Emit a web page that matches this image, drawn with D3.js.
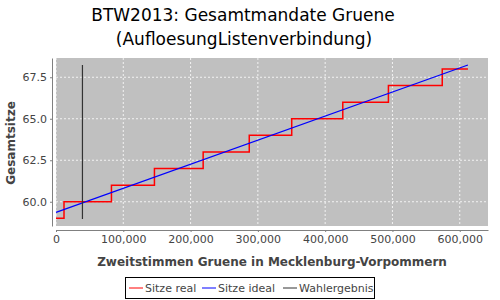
<!DOCTYPE html>
<html>
<head>
<meta charset="utf-8">
<script src="https://cdn.jsdelivr.net/npm/d3@7"></script>
<style>
  body { margin: 0; background: #fff; }
  text { font-family: "DejaVu Sans", sans-serif; }
</style>
</head>
<body>
<div id="chart"></div>
<script>
// step points of the real seat count (votes, seats)
var realVotes = [0, 11900, 82400, 146300, 218700, 287200, 350300, 426200, 494000, 574000, 612200];
var realSeats = [59, 60, 61, 62, 63, 64, 65, 66, 67, 68, 68];

// ideal (proportional) seat count, straight line
var idealVotes = [0, 612200];
var idealSeats = [59.36, 68.24];

// actual election result
var resultVotes = 39300;
var resultRange = [58.96, 68.24];

var xTicks = [0, 100000, 200000, 300000, 400000, 500000, 600000];
var yTicks = [60.0, 62.5, 65.0, 67.5];

var W = 500, H = 300;
var margin = { top: 58, right: 12, bottom: 74, left: 56 };
var width = W - margin.left - margin.right,
  height = H - margin.top - margin.bottom;

var svg = d3.select("#chart").append("svg")
  .attr("width", W)
  .attr("height", H);

// title
var title = svg.append("text")
  .attr("text-anchor", "middle")
  .style("font-size", "17px")
  .style("fill", "#000");
title.append("tspan").attr("x", 243).attr("y", 21).text("BTW2013: Gesamtmandate Gruene");
title.append("tspan").attr("x", 244).attr("y", 45).text("(AufloesungListenverbindung)");

var x = d3.scaleLinear().domain([0, 642000]).range([0, width]);
var y = d3.scaleLinear().domain([58.54, 68.66]).range([height, 0]);

var g = svg.append("g")
  .attr("transform", "translate(" + margin.left + "," + margin.top + ")");

g.append("rect")
  .attr("width", width)
  .attr("height", height)
  .style("fill", "#c0c0c0");

// grid
g.selectAll(".vgrid")
  .data(xTicks)
  .enter()
  .append("line")
  .attr("x1", function(d) { return x(d); })
  .attr("x2", function(d) { return x(d); })
  .attr("y1", 0)
  .attr("y2", height)
  .style("stroke", "#fff")
  .style("stroke-dasharray", "2,2")
  .style("stroke-width", 0.8);

g.selectAll(".hgrid")
  .data(yTicks)
  .enter()
  .append("line")
  .attr("x1", 0)
  .attr("x2", width)
  .attr("y1", function(d) { return y(d); })
  .attr("y2", function(d) { return y(d); })
  .style("stroke", "#fff")
  .style("stroke-dasharray", "2,2")
  .style("stroke-width", 0.8);

// axes
var xAxis = d3.axisBottom(x)
  .tickValues(xTicks)
  .tickSize(2)
  .tickSizeOuter(0)
  .tickFormat(d3.format(","));
var yAxis = d3.axisLeft(y)
  .tickValues(yTicks)
  .tickSize(2)
  .tickSizeOuter(0)
  .tickFormat(d3.format(".1f"));

var gx = g.append("g")
  .attr("transform", "translate(0," + (height + 4) + ")")
  .call(xAxis);
var gy = g.append("g")
  .attr("transform", "translate(-4,0)")
  .call(yAxis);

[gx, gy].forEach(function(a) {
  a.select(".domain").style("stroke", "#808080");
  a.selectAll(".tick line").style("stroke", "#808080");
  a.selectAll(".tick text")
    .style("font-size", "11px")
    .style("fill", "#444")
    .style("font-family", "DejaVu Sans, sans-serif");
});

// lines
var real = realVotes.map(function(v, i) { return [v, realSeats[i]]; });
var ideal = idealVotes.map(function(v, i) { return [v, idealSeats[i]]; });

var line = d3.line()
  .x(function(d) { return x(d[0]); })
  .y(function(d) { return y(d[1]); });

g.append("path")
  .datum(real)
  .attr("d", line.curve(d3.curveStepAfter))
  .style("fill", "none")
  .style("stroke", "#ff0000")
  .style("stroke-width", 1.5);

g.append("path")
  .datum(ideal)
  .attr("d", d3.line()
    .x(function(d) { return x(d[0]); })
    .y(function(d) { return y(d[1]); })(ideal))
  .style("fill", "none")
  .style("stroke", "#0000ff")
  .style("stroke-width", 1.2);

g.append("line")
  .attr("x1", x(resultVotes))
  .attr("x2", x(resultVotes))
  .attr("y1", y(resultRange[0]))
  .attr("y2", y(resultRange[1]))
  .style("stroke", "#333")
  .style("stroke-width", 1.2);

// axis labels
svg.append("text")
  .attr("x", 272)
  .attr("y", 266)
  .attr("text-anchor", "middle")
  .style("font-size", "12px")
  .style("font-weight", "bold")
  .style("fill", "#444")
  .text("Zweitstimmen Gruene in Mecklenburg-Vorpommern");

svg.append("text")
  .attr("transform", "translate(15," + 143 + ") rotate(-90)")
  .attr("text-anchor", "middle")
  .style("font-size", "12px")
  .style("font-weight", "bold")
  .style("fill", "#444")
  .text("Gesamtsitze");

// legend
var legendItems = [
  { label: "Sitze real", color: "#ff0000", x: 129 },
  { label: "Sitze ideal", color: "#0000ff", x: 202 },
  { label: "Wahlergebnis", color: "#333", x: 283 }
];

svg.append("rect")
  .attr("x", 125.5)
  .attr("y", 277.5)
  .attr("width", 249)
  .attr("height", 21)
  .style("fill", "#fff")
  .style("stroke", "#000");

var li = svg.selectAll(".legend")
  .data(legendItems)
  .enter()
  .append("g");

li.append("line")
  .attr("x1", function(d) { return d.x; })
  .attr("x2", function(d) { return d.x + 14; })
  .attr("y1", 288)
  .attr("y2", 288)
  .style("stroke", function(d) { return d.color; });

li.append("text")
  .attr("x", function(d) { return d.x + 16; })
  .attr("y", 292)
  .style("font-size", "11px")
  .style("fill", "#444")
  .text(function(d) { return d.label; });
</script>
</body>
</html>
